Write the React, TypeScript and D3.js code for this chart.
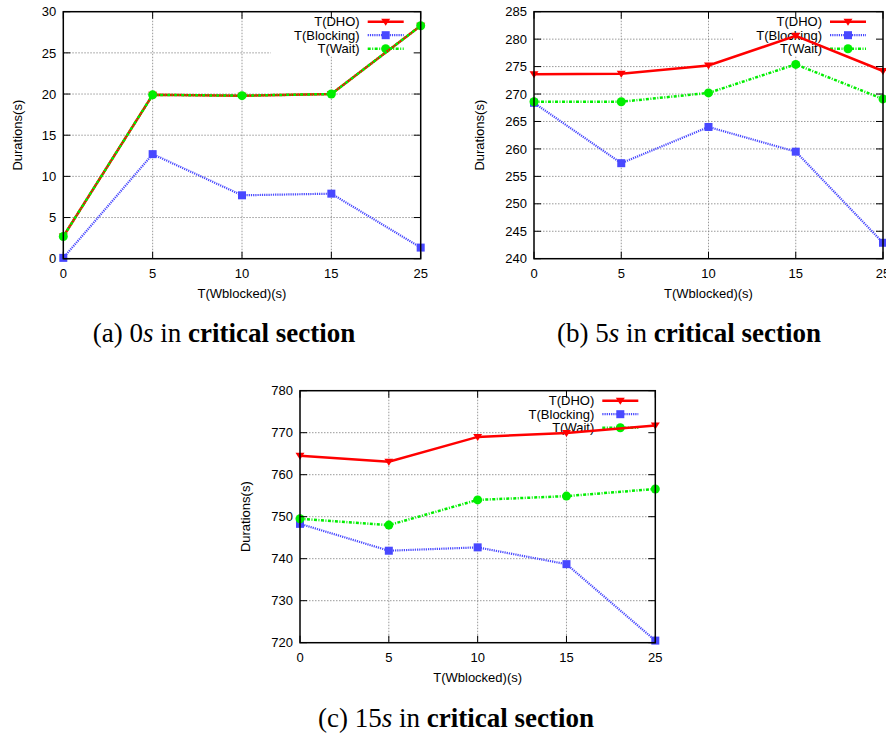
import React from 'react';
import * as d3 from 'd3';

// x categories (evenly spaced, not numeric)
const xCats = ['0', '5', '10', '15', '25'];
const seriesNames = ['T(DHO)', 'T(Blocking)', 'T(Wait)'];

// (a) 0s in critical section
const dhoA = [2.7, 19.9, 19.8, 20.0, 28.3];
const blockingA = [0.1, 12.7, 7.7, 7.9, 1.35];
const waitA = [2.7, 19.9, 19.8, 20.0, 28.3];
const yTicksA = [0, 5, 10, 15, 20, 25, 30];

// (b) 5s in critical section
const dhoB = [273.6, 273.7, 275.2, 280.6, 274.2];
const blockingB = [268.4, 257.4, 264.0, 259.5, 242.9];
const waitB = [268.6, 268.6, 270.2, 275.4, 269.1];
const yTicksB = [240, 245, 250, 255, 260, 265, 270, 275, 280, 285];

// (c) 15s in critical section
const dhoC = [764.5, 763.1, 769.0, 769.9, 771.7];
const blockingC = [748.3, 741.9, 742.7, 738.7, 720.5];
const waitC = [749.5, 748.0, 754.0, 754.9, 756.6];
const yTicksC = [720, 730, 740, 750, 760, 770, 780];

const sansFont = '"Liberation Sans", Arial, Helvetica, sans-serif';
const serifFont = '"Liberation Serif", "Times New Roman", Times, serif';

const styles = [
  { color: '#ff0000', width: 2.5, dash: undefined as string | undefined, marker: 'tri' },
  { color: '#4848ff', width: 2.2, dash: '1.2,1', marker: 'square' },
  { color: '#00ee00', width: 2.5, dash: '3,1.5,1,1.5', marker: 'circle' },
];

function Marker({ kind, x, y, color }: { kind: string; x: number; y: number; color: string }) {
  if (kind === 'tri') {
    return <path d={`M${x - 4.5},${y - 3} L${x + 4.5},${y - 3} L${x},${y + 4} Z`} fill={color} />;
  }
  if (kind === 'square') {
    return <rect x={x - 4} y={y - 4} width={8} height={8} fill={color} />;
  }
  return <circle cx={x} cy={y} r={4.5} fill={color} />;
}

interface PanelProps {
  left: number;
  right: number;
  top: number;
  bottom: number;
  yTicks: number[];
  series: number[][];
  yLabelX: number;
  caption: { letter: string; num: string; cx: number; y: number };
}

function Panel({ left, right, top, bottom, yTicks, series, yLabelX, caption }: PanelProps) {
  const x = d3.scalePoint<string>().domain(xCats).range([left, right]).padding(0);
  const y = d3
    .scaleLinear()
    .domain([yTicks[0], yTicks[yTicks.length - 1]])
    .range([bottom, top]);

  const line = d3
    .line<number>()
    .x((_, i) => x(xCats[i]) as number)
    .y((d) => y(d));

  const tickLen = 7;
  const legendRows = [top + 10, top + 23.5, top + 37];

  return (
    <g>
      {/* grid */}
      <g stroke="#808080" strokeWidth={0.8} strokeDasharray="1.5,1.5">
        {yTicks.slice(1, -1).map((t) => (
          <line key={'gy' + t} x1={left} x2={right} y1={y(t)} y2={y(t)} />
        ))}
        {xCats.slice(1, -1).map((c) => (
          <line key={'gx' + c} x1={x(c)} x2={x(c)} y1={top} y2={bottom} />
        ))}
      </g>

      {/* opaque key box */}
      <rect x={right - 150} y={top} width={150} height={44} fill="#fff" />
      <g fontFamily={sansFont} fontSize={13} fill="#000">
        {seriesNames.map((name, i) => (
          <g key={name}>
            <text x={right - 61} y={legendRows[i]} dy="0.36em" textAnchor="end">
              {name}
            </text>
            <line
              x1={right - 53}
              x2={right - 17}
              y1={legendRows[i]}
              y2={legendRows[i]}
              stroke={styles[i].color}
              strokeWidth={styles[i].width}
              strokeDasharray={styles[i].dash}
            />
            <Marker kind={styles[i].marker} x={right - 35} y={legendRows[i]} color={styles[i].color} />
          </g>
        ))}
      </g>

      {/* data */}
      {series.map((vals, i) => (
        <g key={'s' + i}>
          <path
            d={line(vals) as string}
            fill="none"
            stroke={styles[i].color}
            strokeWidth={styles[i].width}
            strokeDasharray={styles[i].dash}
          />
          {vals.map((v, j) => (
            <Marker key={j} kind={styles[i].marker} x={x(xCats[j]) as number} y={y(v)} color={styles[i].color} />
          ))}
        </g>
      ))}

      {/* ticks (mirrored on all sides) */}
      <g stroke="#000" strokeWidth={1}>
        {yTicks.map((t) => (
          <g key={'ty' + t}>
            <line x1={left} x2={left + tickLen} y1={y(t)} y2={y(t)} />
            <line x1={right} x2={right - tickLen} y1={y(t)} y2={y(t)} />
          </g>
        ))}
        {xCats.map((c) => (
          <g key={'tx' + c}>
            <line x1={x(c)} x2={x(c)} y1={bottom} y2={bottom - tickLen} />
            <line x1={x(c)} x2={x(c)} y1={top} y2={top + tickLen} />
          </g>
        ))}
      </g>
      <rect x={left} y={top} width={right - left} height={bottom - top} fill="none" stroke="#000" strokeWidth={1.5} />

      {/* tick labels */}
      <g fontFamily={sansFont} fontSize={13} fill="#000">
        {yTicks.map((t) => (
          <text key={'ly' + t} x={left - 7} y={y(t)} dy="0.36em" textAnchor="end">
            {t}
          </text>
        ))}
        {xCats.map((c) => (
          <text key={'lx' + c} x={x(c)} y={bottom + 19} textAnchor="middle">
            {c}
          </text>
        ))}
        <text x={(left + right) / 2} y={bottom + 39} textAnchor="middle">
          T(Wblocked)(s)
        </text>
        <text
          transform={`translate(${yLabelX},${(top + bottom) / 2}) rotate(-90)`}
          dy="0.36em"
          textAnchor="middle"
        >
          Durations(s)
        </text>
      </g>

      {/* caption */}
      <text x={caption.cx} y={caption.y} textAnchor="middle" fontFamily={serifFont} fontSize={27} fill="#000">
        <tspan>({caption.letter}) </tspan>
        <tspan>{caption.num}</tspan>
        <tspan fontStyle="italic">s</tspan>
        <tspan> in </tspan>
        <tspan fontWeight="bold">critical section</tspan>
      </text>
    </g>
  );
}

export default function App() {
  return (
    <svg
      width={886}
      height={734}
      style={{ position: 'absolute', left: 0, top: 0, background: '#fff' }}
    >
      <rect width={886} height={734} fill="#fff" />
      <Panel
        left={63.3}
        right={420.7}
        top={11.7}
        bottom={258.7}
        yTicks={yTicksA}
        series={[dhoA, blockingA, waitA]}
        yLabelX={17}
        caption={{ letter: 'a', num: '0', cx: 224, y: 342 }}
      />
      <Panel
        left={534}
        right={883}
        top={11.7}
        bottom={258.7}
        yTicks={yTicksB}
        series={[dhoB, blockingB, waitB]}
        yLabelX={479}
        caption={{ letter: 'b', num: '5', cx: 689, y: 342 }}
      />
      <Panel
        left={300}
        right={655.3}
        top={390.7}
        bottom={642.7}
        yTicks={yTicksC}
        series={[dhoC, blockingC, waitC]}
        yLabelX={245}
        caption={{ letter: 'c', num: '15', cx: 456, y: 727 }}
      />
    </svg>
  );
}
